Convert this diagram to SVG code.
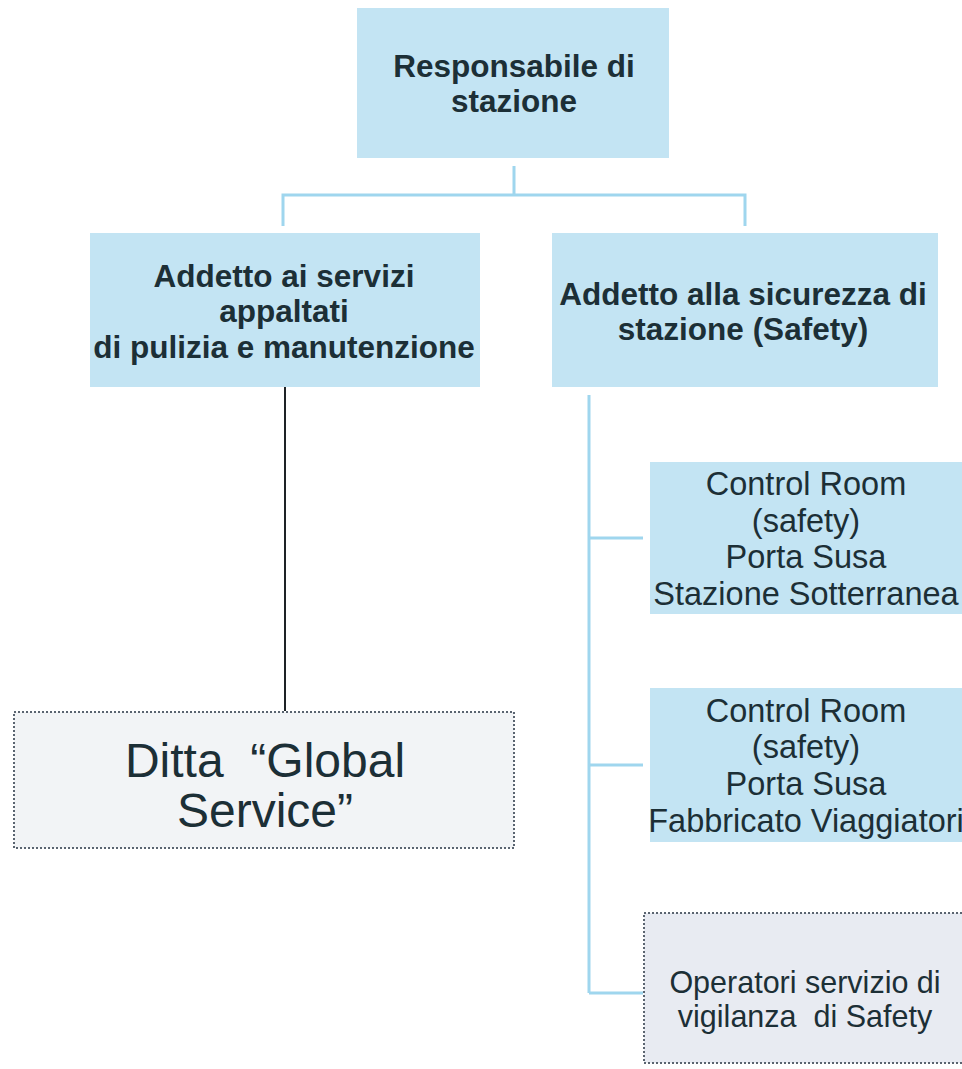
<svg xmlns="http://www.w3.org/2000/svg" width="962" height="1069" viewBox="0 0 962 1069">
<style>
.box{fill:#c3e4f3;}
.dot{fill:#f2f4f6;stroke:#5a6470;stroke-width:2;stroke-dasharray:2 2;}
.b{font-family:"Liberation Sans",Arial,sans-serif;font-weight:bold;font-size:31.5px;fill:#1c2f36;text-anchor:middle;}
.r{font-family:"Liberation Sans",Arial,sans-serif;font-size:32.5px;fill:#1c2f36;text-anchor:middle;white-space:pre;}
.c{fill:none;stroke:#9fd6ee;stroke-width:3;}
</style>
<rect width="962" height="1069" fill="#ffffff"/>
<g id="connectors">
<path class="c" d="M514 166 V195 M283 226 V195 H745 V226" stroke="#86c3dc"/>
<path d="M285 387 V711" fill="none" stroke="#1e2326" stroke-width="2"/>
<path class="c" d="M589 395 V993 M589 538 H643 M589 765 H643 M589 993 H643"/>
</g>
<g id="n-responsabile">
<rect class="box" x="357" y="8" width="312" height="150"/>
<text class="b" x="514" y="77">Responsabile di</text>
<text class="b" x="514" y="112">stazione</text>
</g>
<g id="n-servizi">
<rect class="box" x="90" y="233" width="390" height="154"/>
<text class="b" x="284" y="287">Addetto ai servizi</text>
<text class="b" x="284" y="322">appaltati</text>
<text class="b" x="284" y="358">di pulizia e manutenzione</text>
</g>
<g id="n-safety">
<rect class="box" x="552" y="233" width="386" height="154"/>
<text class="b" x="743" y="305">Addetto alla sicurezza di</text>
<text class="b" x="743" y="340">stazione (Safety)</text>
</g>
<g id="n-ditta">
<rect class="dot" x="14" y="712" width="500" height="136"/>
<text class="r" style="font-size:48px" x="265" y="777" xml:space="preserve">Ditta  “Global</text>
<text class="r" style="font-size:48px" x="265" y="827">Service”</text>
</g>
<g id="n-cr1">
<rect class="box" x="650" y="462" width="312" height="152"/>
<text class="r" x="806" y="495">Control Room</text>
<text class="r" x="806" y="532">(safety)</text>
<text class="r" x="806" y="568">Porta Susa</text>
<text class="r" x="806" y="605">Stazione Sotterranea</text>
</g>
<g id="n-cr2">
<rect class="box" x="650" y="688" width="312" height="154"/>
<text class="r" x="806" y="722">Control Room</text>
<text class="r" x="806" y="758">(safety)</text>
<text class="r" x="806" y="795">Porta Susa</text>
<text class="r" x="806" y="832">Fabbricato Viaggiatori</text>
</g>
<g id="n-operatori">
<rect class="dot" x="644" y="913" width="330" height="150" style="fill:#e8ebf2"/>
<text class="r" style="font-size:30.5px" x="805" y="993">Operatori servizio di</text>
<text class="r" style="font-size:30.5px" x="805" y="1027" xml:space="preserve">vigilanza  di Safety</text>
</g>
</svg>
